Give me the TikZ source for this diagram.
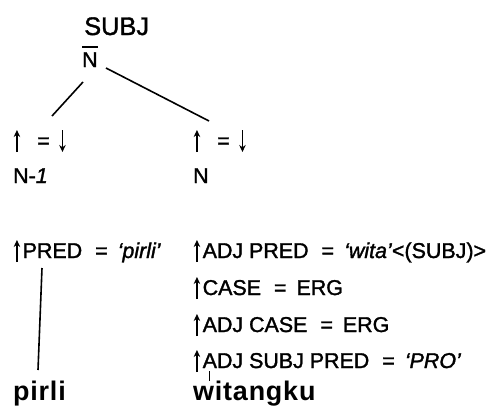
\documentclass[tikz,border=0pt]{standalone}
\usepackage{fontspec}
\setmainfont{Liberation Sans}
\usetikzlibrary{arrows.meta}
\tikzset{arr/.style={line width=1.8bp,-{Stealth[length=7bp,width=6.5bp]}}}
\newcommand\uarr{\hspace{0.5bp}\tikz[baseline=0bp]\draw[arr] (0,-4bp)--(0,18bp);\hspace{1bp}}
\newcommand\darr{\hspace{0.5bp}\tikz[baseline=0bp]\draw[arr] (0,18bp)--(0,-4bp);\hspace{0.5bp}}
\newcommand\eqs{\hspace{13bp}=\hspace{10bp}}
\newcommand\ua{\uarr\hspace{1.5bp}}
\begin{document}
\begin{tikzpicture}[x=1bp,y=1bp,
  txt/.style={anchor=base west, inner sep=0pt, font=\fontsize{21.5}{24}\selectfont\addfontfeature{FakeBold=1.5}},
  head/.style={anchor=base west, inner sep=0pt, font=\fontsize{25.5}{30}\selectfont\addfontfeature{FakeBold=1.5}},
  word/.style={anchor=base west, inner sep=0pt, font=\fontsize{27}{30}\selectfont\bfseries\addfontfeature{LetterSpace=3}},
  ln/.style={line width=1.6bp}]
\useasboundingbox (0,0) rectangle (500,410);
% tree
\node[head] (subj) at (84,375) {SUBJ};
\node[txt] (nbar) at (82,343) {N};
\draw[ln] ([yshift=5bp]nbar.north west) -- ([yshift=5bp]nbar.north east);
\node[txt] (eqL) at (13,262) {\uarr\hspace{16bp}=\hspace{9bp}\darr};
\node[txt] (nL) at (13,227) {N-\textit{1}};
\node[txt] (eqR) at (193,262) {\uarr\hspace{16bp}=\hspace{9bp}\darr};
\node[txt] (nR) at (193,227) {N};
\coordinate (bl) at (83,328);
\coordinate (br) at (106,342);
\coordinate (tl) at (52,294);
\coordinate (tr) at (209,289);
\draw[ln] (bl) -- (tl);
\draw[ln] (br) -- (tr);
% lexical entries
\node[txt] (predL) at (13,152) {\ua PRED\eqs\textit{‘pirli’}};
\node[txt] (r1) at (193,152) {\ua ADJ PRED\eqs\textit{‘wita’}<(SUBJ)>};
\node[txt] (r2) at (193,115) {\ua CASE\eqs ERG};
\node[txt] (r3) at (193,78) {\ua ADJ CASE\eqs ERG};
\node[txt] (r4) at (193,42) {\ua ADJ SUBJ PRED\eqs\textit{‘PRO’}};
\node[word] (pirli) at (13,10) {pirli};
\node[word] (witangku) at (193,10) {witangku};
\coordinate (pa) at (42,142);
\coordinate (pb) at (38,40);
\coordinate (wa) at (209,39);
\coordinate (wb) at (209,29);
\draw[ln] (pa) -- (pb);
\draw[line width=1bp] (wa) -- (wb);
\end{tikzpicture}
\end{document}
